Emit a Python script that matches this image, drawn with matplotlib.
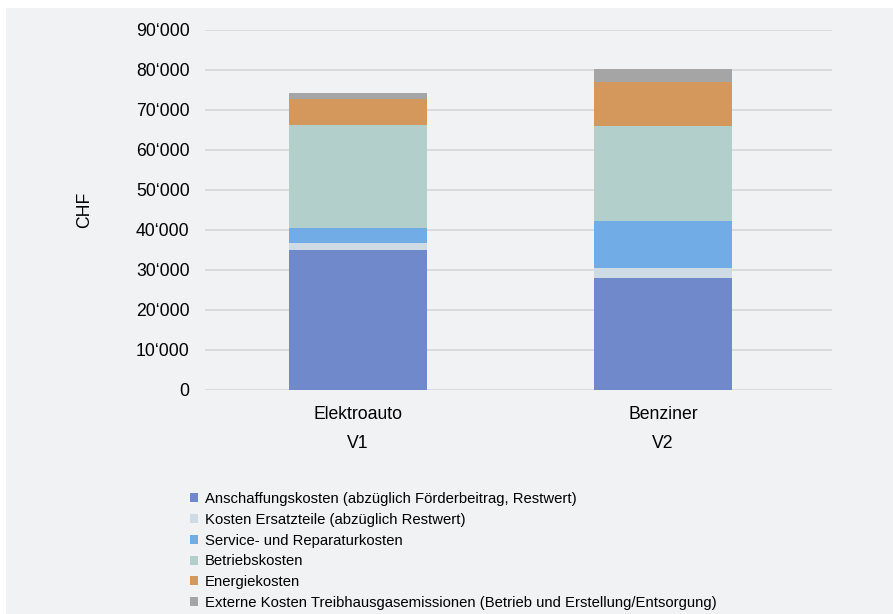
import matplotlib
matplotlib.use("Agg")
import matplotlib.pyplot as plt
from matplotlib.patches import Rectangle, Patch
from matplotlib.ticker import FuncFormatter

plt.rcParams['font.family'] = ['Liberation Sans', 'DejaVu Sans']

categories = ["Elektroauto\nV1", "Benziner\nV2"]
series_names = [
    "Anschaffungskosten (abzüglich Förderbeitrag, Restwert)",
    "Kosten Ersatzteile (abzüglich Restwert)",
    "Service- und Reparaturkosten",
    "Betriebskosten",
    "Energiekosten",
    "Externe Kosten Treibhausgasemissionen (Betrieb und Erstellung/Entsorgung)",
]
anschaffung = [35000, 28000]
ersatzteile = [1750, 2500]
service = [3750, 11750]
betrieb = [25750, 23750]
energie = [6500, 11000]
extern = [1500, 3250]
series_values = [anschaffung, ersatzteile, service, betrieb, energie, extern]
colors = ["#7089cb", "#cfdbe4", "#72ace6", "#b3cfcb", "#d4985c", "#a5a5a5"]
yticks = [0, 10000, 20000, 30000, 40000, 50000, 60000, 70000, 80000, 90000]

W, H = 893, 614
fig = plt.figure(figsize=(W / 100, H / 100), dpi=100)
fig.patch.set_facecolor("white")
bg = Rectangle((6 / W, 0), 1 - 6 / W, 1 - 8 / H, transform=fig.transFigure,
               facecolor="#f1f2f4", edgecolor="none", zorder=-10)
fig.patches.append(bg)

ax = fig.add_axes([205 / W, (H - 390) / H, (832 - 205) / W, (390 - 29.5) / H])
ax.set_facecolor("none")

x = list(range(len(categories)))
bottom = [0] * len(categories)
handles = []
for name, vals, col in zip(series_names, series_values, colors):
    ax.bar(x, vals, width=0.45, bottom=bottom, color=col, zorder=3, label=name)
    bottom = [b + v for b, v in zip(bottom, vals)]
    handles.append(Patch(facecolor=col, edgecolor="none", label=name))

FS = 12.7
ax.set_xlim(-0.502, 1.554)
ax.set_ylim(0, 90000)
ax.set_yticks(yticks)
ax.yaxis.set_major_formatter(FuncFormatter(lambda v, p: "0" if v == 0 else f"{int(v):,}".replace(",", "\u2018")))
ax.grid(axis="y", color="#d9d9d9", linewidth=1.3, zorder=0)
ax.set_xticks(x)
ax.set_xticklabels(categories, fontsize=FS, linespacing=1.95)
for s in ax.spines.values():
    s.set_visible(False)
ax.tick_params(axis="both", length=0, labelsize=FS)
ax.tick_params(axis="y", pad=11)
ax.tick_params(axis="x", pad=11.5)
ax.set_ylabel("CHF", fontsize=FS, labelpad=31)

leg = fig.legend(handles=handles, loc="upper left", bbox_to_anchor=(190 / W, 1 - 492 / H),
                 frameon=False, fontsize=10.7, handlelength=0.55, handleheight=0.55,
                 handletextpad=0.45, labelspacing=0.455, borderaxespad=0, borderpad=0)

fig.savefig("out.png", dpi=100, facecolor=fig.get_facecolor())
